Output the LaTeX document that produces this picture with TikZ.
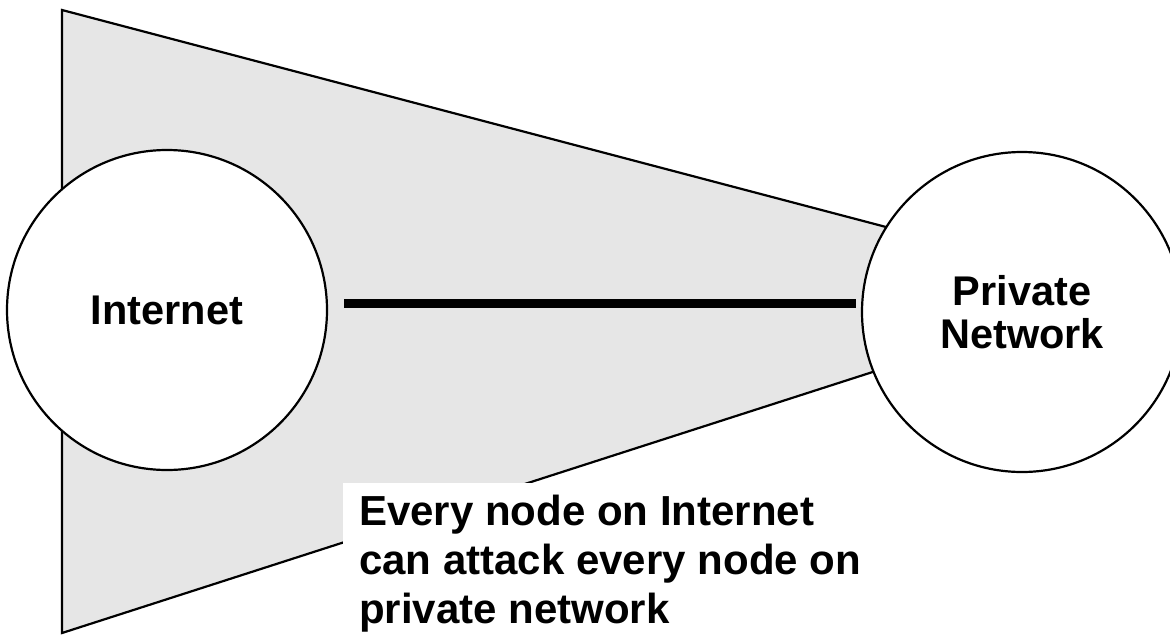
\documentclass[tikz,border=0pt]{standalone}
\usepackage{fontspec}
\setmainfont{Liberation Sans}
\definecolor{wedgegray}{RGB}{230,230,230}
\tikzset{
  outline/.style={draw=black, line width=2.2pt},
  netnode/.style={circle, outline, fill=white, minimum size=320pt, inner sep=0pt,
    align=center, font=\bfseries\fontsize{41.5}{43}\selectfont},
  link/.style={line width=9pt, line cap=butt},
  note/.style={anchor=north west, fill=white, inner xsep=16pt, inner ysep=12pt,
    align=left, font=\bfseries\fontsize{42}{49}\selectfont}
}
\begin{document}
\begin{tikzpicture}[x=1pt, y=-1pt]
  \useasboundingbox (0,0) rectangle (1170,635);
  % shaded reach from the Internet to the private network
  \fill[wedgegray] (62,10) -- (1000,257) -- (1000,331) -- (62,633) -- cycle;
  \draw[outline, line join=miter] (1000,257) -- (62,10) -- (62,633) -- (1000,331);
  % the two networks
  \node[netnode] (inet) at (167,310) {Internet};
  \node[netnode] (priv) at (1022,312) {Private\\Network};
  % connection between them
  \draw[link, shorten <=16pt, shorten >=5pt] ([yshift=7pt]inet.east) -- ([yshift=9pt]priv.west);
  % caption
  \node[note] (caption) at (343,483) {Every node on Internet\\can attack every node on\\private network};
\end{tikzpicture}
\end{document}
